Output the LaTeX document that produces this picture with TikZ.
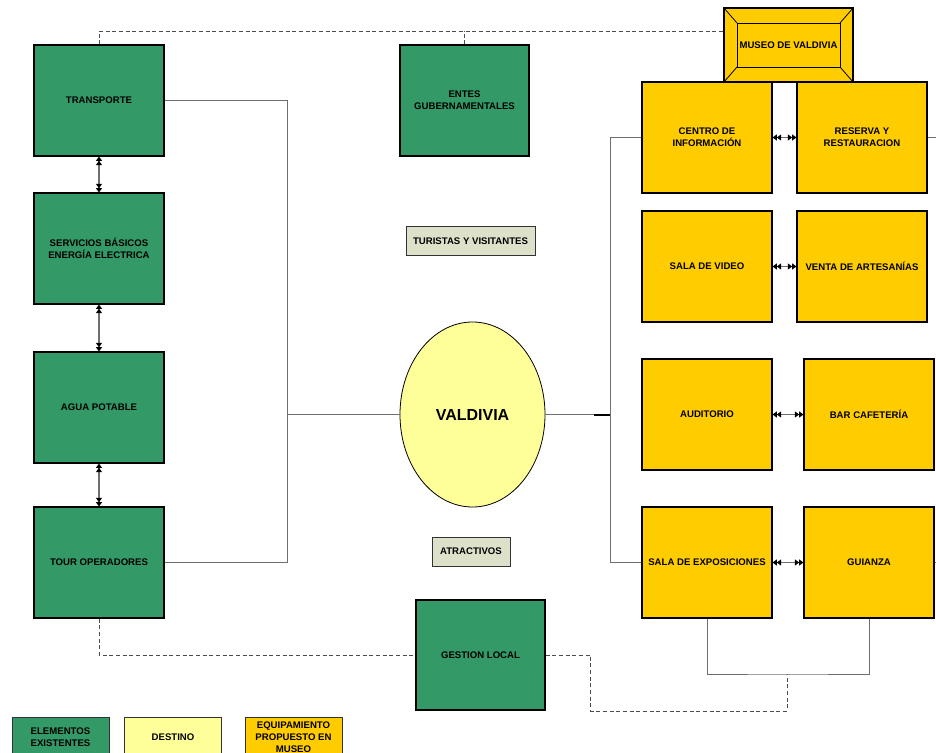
\documentclass[tikz,border=0pt]{standalone}
\usepackage{fontspec}
\setmainfont{Liberation Sans}
\usetikzlibrary{shapes.geometric,arrows.meta,calc}
\definecolor{exgreen}{RGB}{51,153,102}
\definecolor{muyellow}{RGB}{255,204,0}
\definecolor{destyellow}{RGB}{255,255,153}
\definecolor{tagbeige}{RGB}{221,225,202}
\definecolor{conngray}{RGB}{110,110,110}
\tikzset{
  lbl/.style={font=\bfseries\fontsize{7.2}{9}\selectfont, align=center, inner sep=0pt},
  gbox/.style={lbl, draw=black, line width=0.8pt, fill=exgreen, minimum width=97.5pt, minimum height=83.25pt},
  ybox/.style={lbl, draw=black, line width=0.8pt, fill=muyellow, minimum width=97.5pt, minimum height=83.25pt},
  tagbox/.style={lbl, draw=black!80, line width=0.75pt, fill=tagbeige, minimum height=22pt},
  legbox/.style={lbl, draw=black!80, line width=0.75pt, minimum width=72.75pt, minimum height=30pt},
  conn/.style={draw=conngray, line width=0.75pt},
  dsh/.style={draw=black!70, line width=0.75pt, dash pattern=on 3pt off 2pt},
  dtip/.tip={Triangle[length=3.2pt,width=4.4pt,color=black]Triangle[length=3.2pt,width=4.4pt,color=black]},
  darr/.style={draw=conngray, line width=0.9pt, dtip-dtip},
}
\begin{document}
\begin{tikzpicture}[x=0.75pt,y=-0.75pt]
\useasboundingbox (0,0) rectangle (936,753);
\clip (0,0) rectangle (936,753);
% left column
\node[gbox] (transporte) at (99,100.5) {TRANSPORTE};
\node[gbox] (servicios) at (99,248.5) {SERVICIOS BÁSICOS\\ENERGÍA ELECTRICA};
\node[gbox] (agua) at (99,407.5) {AGUA POTABLE};
\node[gbox] (tour) at (99,562.5) {TOUR OPERADORES};
% center
\node[gbox, minimum width=96.75pt] (entes) at (464.5,100.5) {ENTES\\GUBERNAMENTALES};
\node[tagbox, minimum width=96.75pt] (turistas) at (470.5,241) {TURISTAS Y VISITANTES};
\node[ellipse, draw=black, line width=0.6pt, fill=destyellow, minimum width=108.75pt, minimum height=138.75pt, inner sep=0pt, font=\bfseries\fontsize{12}{14}\selectfont] (valdivia) at (472.5,414.5) {VALDIVIA};
\node[tagbox, minimum width=58.5pt, minimum height=21.75pt] (atractivos) at (471,551.5) {ATRACTIVOS};
\node[gbox, minimum width=96.75pt, minimum height=82.5pt] (gestion) at (480.5,655) {GESTION LOCAL};
% museum
\node[lbl, draw=black, line width=0.8pt, fill=muyellow, minimum width=96.75pt, minimum height=55.5pt] (museo) at (788.5,45) {};
\draw[black, line width=0.6pt] (737,23) rectangle (840,67);
\draw[black, line width=0.6pt] (museo.north west) -- (737,23) (museo.north east) -- (840,23) (museo.south west) -- (737,67) (museo.south east) -- (840,67);
\node[lbl] (museotxt) at (788.5,45) {MUSEO DE VALDIVIA};
% right column
\node[ybox] (centro) at (707,137.5) {CENTRO DE\\INFORMACIÓN};
\node[ybox] (reserva) at (862,137.5) {RESERVA Y\\RESTAURACION};
\node[ybox] (video) at (707,266.5) {SALA DE VIDEO};
\node[ybox] (venta) at (862,266.5) {VENTA DE ARTESANÍAS};
\node[ybox] (auditorio) at (707,414.5) {AUDITORIO};
\node[ybox] (bar) at (869,414.5) {BAR CAFETERÍA};
\node[ybox] (expo) at (707,562.5) {SALA DE EXPOSICIONES};
\node[ybox] (guianza) at (869,562.5) {GUIANZA};
% legend
\node[legbox, fill=exgreen] (leg1) at (60.5,737) {ELEMENTOS\\EXISTENTES};
\node[legbox, fill=destyellow] (leg2) at (173,737) {DESTINO};
\node[legbox, fill=muyellow] (leg3) at (293.5,737) {EQUIPAMIENTO\\PROPUESTO EN\\MUSEO};
% coordinates
\coordinate (lbus) at (287,414.5);
\coordinate (rbus) at (610,414.5);
\coordinate (dtop) at (724,31);
\coordinate (jn) at (787,674);
% left bus
\draw[conn] (transporte.east) -| (lbus);
\draw[conn] (tour.east) -| (lbus);
\draw[conn] (valdivia.west) -- (lbus);
% right bus
\draw[conn] (valdivia.east) -- (rbus);
\draw[black, line width=1.5pt] ($(rbus)+(-16,0)$) -- (rbus);
\draw[conn] (centro.west) -| (rbus);
\draw[conn] (expo.west) -| (rbus);
% double arrows
\draw[darr] (transporte.south) -- (servicios.north);
\draw[darr] (servicios.south) -- (agua.north);
\draw[darr] (agua.south) -- (tour.north);
\draw[darr] (centro.east) -- (reserva.west);
\draw[darr] (video.east) -- (venta.west);
\draw[darr] (auditorio.east) -- (bar.west);
\draw[darr] (expo.east) -- (guianza.west);
% dashed links
\draw[dsh] (transporte.north) |- (dtop);
\draw[dsh] (entes.north) -- (entes.north |- dtop);
\draw[dsh] (tour.south) |- (gestion.west);
\draw[dsh] (gestion.east) -- ++(45,0) -- ++(0,56) -| (jn);
% bottom solid link
\draw[conn] (expo.south) |- (jn) -| (guianza.south);
% stubs at right edge
\draw[conn] (reserva.east) -- ++(9,0);
\draw[conn] (guianza.east) -- ++(4,0);
\end{tikzpicture}
\end{document}
